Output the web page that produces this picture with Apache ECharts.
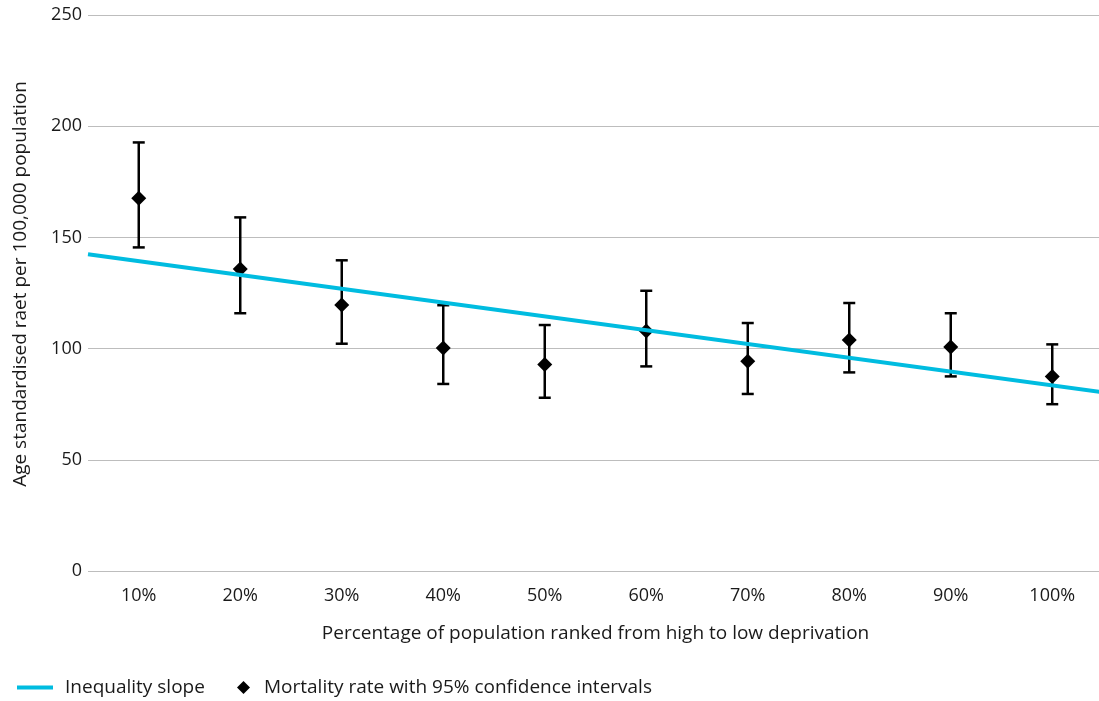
<!DOCTYPE html>
<html>
<head>
<meta charset="utf-8">
<script src="https://cdn.jsdelivr.net/npm/echarts@6/dist/echarts.min.js"></script>
<style>
  html, body { margin: 0; padding: 0; background: #fff; }
  #chart { width: 1099px; height: 701px; }
</style>
</head>
<body>
<div id="chart"></div>
<script>
// Deprivation deciles
const categories = ['10%', '20%', '30%', '40%', '50%', '60%', '70%', '80%', '90%', '100%'];
// Age standardised mortality rate and its 95% confidence limits
const rate  = [167.6, 135.8, 119.6, 100.3, 92.9, 107.9, 94.3, 103.9, 100.7, 87.5];
const upper = [192.7, 159.0, 139.7, 119.5, 110.6, 126.0, 111.5, 120.5, 115.9, 101.9];
const lower = [145.5, 115.9, 102.2, 84.1, 77.9, 92.0, 79.6, 89.3, 87.5, 75.0];
// Inequality slope end points, on a 0–10 scale spanning the whole axis
const slopeX = [0, 10];
const slopeY = [142.4, 80.4];
// Value axis ticks
const yTicks = { min: 0, max: 250, interval: 50 };

const FONT = '"Open Sans", "Noto Sans", sans-serif';
const TEXT = '#1a1a1a';
const CYAN = '#00BCE0';

const chart = echarts.init(document.getElementById('chart'), null, { renderer: 'canvas' });

const errorData = categories.map((c, i) => [i, lower[i], upper[i]]);

chart.setOption({
  animation: false,
  backgroundColor: '#ffffff',
  textStyle: { fontFamily: FONT, color: TEXT },
  grid: {
    left: 88, top: 15, bottom: 130, width: 1015,
    containLabel: false, outerBoundsMode: 'none'
  },
  legend: [
    {
      left: 12, top: 673, icon: 'rect', itemWidth: 36, itemHeight: 4, itemGap: 20,
      data: ['Inequality slope'],
      textStyle: { fontFamily: FONT, fontSize: 19, color: TEXT, padding: [0, 0, 0, 7] }
    },
    {
      left: 232, top: 673, icon: 'diamond', itemWidth: 13, itemHeight: 13,
      data: ['Mortality rate with 95% confidence intervals'],
      textStyle: { fontFamily: FONT, fontSize: 19, color: TEXT, padding: [0, 0, 0, 9] }
    }
  ],
  xAxis: [
    {
      type: 'category',
      data: categories,
      boundaryGap: true,
      name: 'Percentage of population ranked from high to low deprivation',
      nameLocation: 'middle',
      nameGap: 53,
      nameTextStyle: { fontFamily: FONT, fontSize: 19, color: TEXT },
      axisLine: { show: false },
      axisTick: { show: false },
      axisLabel: { fontFamily: FONT, fontSize: 18, color: TEXT, margin: 16 }
    },
    {
      type: 'value', min: 0, max: 10, show: false
    }
  ],
  yAxis: {
    type: 'value',
    min: yTicks.min, max: yTicks.max, interval: yTicks.interval,
    name: 'Age standardised raet per 100,000 population',
    nameLocation: 'middle',
    nameGap: 58,
    nameTextStyle: { fontFamily: FONT, fontSize: 19, color: TEXT, padding: [0, 0, 0, 18] },
    axisLine: { show: false },
    axisTick: { show: false },
    axisLabel: { fontFamily: FONT, fontSize: 18, color: TEXT, margin: 6 },
    splitLine: { lineStyle: { color: '#bdbdbd', width: 1 } }
  },
  series: [
    {
      name: 'Mortality rate with 95% confidence intervals',
      type: 'custom',
      xAxisIndex: 0,
      data: errorData,
      z: 2,
      renderItem: function (params, api) {
        const x = api.value(0);
        const lo = api.coord([x, api.value(1)]);
        const hi = api.coord([x, api.value(2)]);
        const half = 6;
        const style = { stroke: '#000', lineWidth: 2.5, fill: null };
        return {
          type: 'group',
          children: [
            { type: 'line', shape: { x1: hi[0], y1: hi[1], x2: lo[0], y2: lo[1] }, style: style },
            { type: 'line', shape: { x1: hi[0] - half, y1: hi[1], x2: hi[0] + half, y2: hi[1] }, style: style },
            { type: 'line', shape: { x1: lo[0] - half, y1: lo[1], x2: lo[0] + half, y2: lo[1] }, style: style }
          ]
        };
      },
      itemStyle: { color: '#000' },
      encode: { x: 0, y: [1, 2] }
    },
    {
      name: 'Mortality rate with 95% confidence intervals',
      type: 'scatter',
      xAxisIndex: 0,
      data: rate,
      symbol: 'diamond',
      symbolSize: 15,
      itemStyle: { color: '#000', opacity: 1 },
      z: 3
    },
    {
      name: 'Inequality slope',
      type: 'line',
      xAxisIndex: 1,
      data: slopeX.map((x, i) => [x, slopeY[i]]),
      showSymbol: false,
      symbol: 'none',
      lineStyle: { color: CYAN, width: 4 },
      itemStyle: { color: CYAN },
      z: 4
    }
  ]
});
</script>
</body>
</html>
